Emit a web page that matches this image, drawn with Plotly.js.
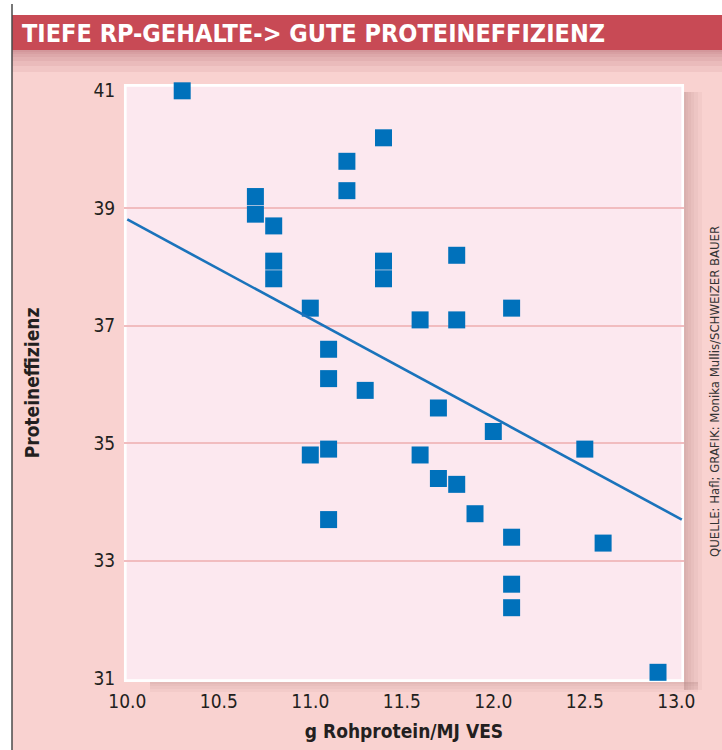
<!DOCTYPE html>
<html>
<head>
<meta charset="utf-8">
<script src="https://cdn.plot.ly/plotly-3.0.1.min.js"></script>
<style>
  html, body { margin: 0; padding: 0; background: #f9d2d0; }
  #chart { width: 722px; height: 750px; }
</style>
</head>
<body>
<div id="chart"></div>
<script>
// ---- data ----
const rohprotein = [10.3, 10.7, 10.7, 10.8, 10.8, 10.8, 11.0, 11.0, 11.1, 11.1, 11.1, 11.1,
                    11.2, 11.2, 11.3, 11.4, 11.4, 11.4, 11.6, 11.6, 11.7, 11.7, 11.8, 11.8,
                    11.8, 11.9, 12.0, 12.1, 12.1, 12.1, 12.1, 12.5, 12.6, 12.9];
const proteineffizienz = [41.0, 39.2, 38.9, 38.7, 38.1, 37.8, 37.3, 34.8, 36.6, 36.1, 34.9, 33.7,
                          39.8, 39.3, 35.9, 40.2, 38.1, 37.8, 37.1, 34.8, 35.6, 34.4, 38.2, 37.1,
                          34.3, 33.8, 35.2, 37.3, 33.4, 32.6, 32.2, 34.9, 33.3, 31.1];
const trendX = [10.0, 13.03];
const trendY = [38.81, 33.70];
const xTickVals = [10.0, 10.5, 11.0, 11.5, 12.0, 12.5, 13.0];
const xTickText = ["10.0", "10.5", "11.0", "11.5", "12.0", "12.5", "13.0"];
const yTickVals = [31, 33, 35, 37, 39, 41];
const yGridVals = [33, 35, 37, 39];

const titleText = "TIEFE RP-GEHALTE-> GUTE PROTEINEFFIZIENZ";
const xTitle = "g Rohprotein/MJ VES";
const yTitle = "Proteineffizienz";
const sourceText = "QUELLE: Hafl; GRAFIK: Monika Mullis/SCHWEIZER BAUER";

// ---- layout helpers (pixel -> paper) ----
const W = 722, H = 750;
const M = { l: 124, r: 38, t: 84, b: 68 };
const PW = W - M.l - M.r, PH = H - M.t - M.b;
const px = v => (v - M.l) / PW;
const py = v => (H - M.b - v) / PH;

const FONT = "DejaVu Sans Condensed, DejaVu Sans, sans-serif";
const TEXT = "#231f20";
const f = (size, color, weight) => ({ family: FONT, size: size, color: color || TEXT,
  weight: weight || "normal", stretch: "condensed" });

function rect(x0, y0, x1, y1, fill, layer) {
  return { type: "rect", xref: "paper", yref: "paper",
    x0: px(x0), x1: px(x1), y0: py(y1), y1: py(y0),
    fillcolor: fill, line: { width: 0 }, layer: layer || "below" };
}

const shapes = [];
shapes.push(rect(0, 0, 722, 15, "#ffffff"));
shapes.push(rect(0, 0, 12, 750, "#ffffff"));
shapes.push(rect(12, 15, 722, 50, "#c84a55"));
// soft shadow under title bar
[22, 16, 11, 7, 4, 2].forEach(h => shapes.push(rect(12, 50, 722, 50 + h, "rgba(165,80,90,0.09)")));
// soft shadow right of plot
[18, 14, 10, 7, 4, 2].forEach(w => shapes.push(rect(684, 92, 684 + w, 690, "rgba(150,95,105,0.06)")));
// soft shadow under plot
[10, 7, 4, 2].forEach(h => shapes.push(rect(150, 682, 698, 682 + h, "rgba(150,95,105,0.06)")));
// left frame line
shapes.push({ type: "line", xref: "paper", yref: "paper",
  x0: px(12), x1: px(12), y0: py(750), y1: py(4),
  line: { color: "#4a4a4a", width: 1.5 }, layer: "above" });
// white frame of the plot area
shapes.push({ type: "rect", xref: "paper", yref: "paper",
  x0: 1.3 / PW, x1: 1 - 1.3 / PW, y0: 1.3 / PH, y1: 1 - 1.3 / PH,
  fillcolor: "rgba(0,0,0,0)", line: { color: "#ffffff", width: 2.7 }, layer: "below" });

const traces = [
  { type: "scatter", mode: "markers", x: rohprotein, y: proteineffizienz,
    marker: { symbol: "square", size: 17, color: "#0071bb", line: { width: 0 } },
    cliponaxis: false, hoverinfo: "x+y", showlegend: false },
  { type: "scatter", mode: "lines", x: trendX, y: trendY,
    line: { color: "#1a73bb", width: 2.6 }, hoverinfo: "skip", showlegend: false },
  { type: "scatter", mode: "markers", x: [], y: [], yaxis: "y2",
    hoverinfo: "skip", showlegend: false }
];

const yRange = [30.935, 41.116];
const layout = {
  width: W, height: H,
  margin: M,
  paper_bgcolor: "#f9d2d0",
  plot_bgcolor: "#fce8ef",
  font: f(19),
  title: { text: titleText, xref: "container", yref: "container",
    x: 22 / W, xanchor: "left", y: 1 - 33 / H, yanchor: "middle",
    font: f(25, "#ffffff", "bold") },
  xaxis: {
    range: [9.982, 13.042], tickvals: xTickVals, ticktext: xTickText,
    showgrid: false, zeroline: false, showline: false,
    ticks: "outside", ticklen: 2, tickcolor: "rgba(0,0,0,0)",
    tickfont: f(19),
    title: { text: xTitle, standoff: 13, font: f(19, TEXT, "bold") }
  },
  yaxis: {
    range: yRange, tickvals: yTickVals,
    showgrid: false, zeroline: false, showline: false,
    ticks: "outside", ticklen: 4, tickcolor: "rgba(0,0,0,0)",
    tickfont: f(19),
    title: { text: yTitle, standoff: 48, font: f(19, TEXT, "bold") }
  },
  yaxis2: {
    range: yRange, overlaying: "y", side: "left", tickvals: yGridVals,
    showticklabels: false, showgrid: true, gridcolor: "#f1bcbf", gridwidth: 1.6,
    zeroline: false, showline: false, ticks: ""
  },
  shapes: shapes,
  annotations: [
    { text: sourceText, xref: "paper", yref: "paper", x: px(714), y: py(392),
      xanchor: "center", yanchor: "middle", textangle: -90, showarrow: false,
      font: f(13, "#333333") }
  ]
};

Plotly.newPlot("chart", traces, layout, { displayModeBar: false, staticPlot: true });
</script>
</body>
</html>
